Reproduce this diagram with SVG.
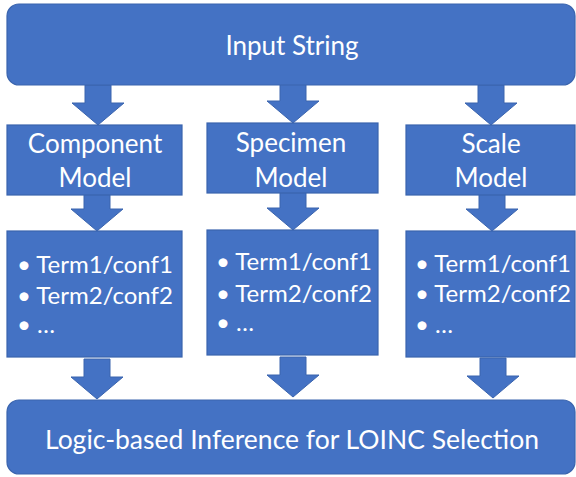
<svg xmlns="http://www.w3.org/2000/svg" width="576" height="477" viewBox="0 0 576 477">
  <defs>
    <style>
      .box { fill: #4472C4; stroke: #3A64AE; stroke-width: 1.2; }
      .arrow { fill: #4472C4; stroke: #3A64AE; stroke-width: 1; }
      .lbl { fill: #FFFFFF; font-family: Lato, "Open Sans", "Liberation Sans", sans-serif; font-size: 26px; }
      .term { font-size: 24px; }
      .c { text-anchor: middle; }
    </style>
    <!-- block arrow pointing down, origin at the tip -->
    <path id="down" d="M-13,-40 H13 V-22 H26 L0,0 L-26,-22 H-13 Z"/>
  </defs>

  <rect width="576" height="477" fill="#FFFFFF"/>

  <g id="connectors">
    <use href="#down" class="arrow" x="98" y="125"/>
    <use href="#down" class="arrow" x="293" y="123"/>
    <use href="#down" class="arrow" x="491" y="125"/>
    <use href="#down" class="arrow" x="97" y="231"/>
    <use href="#down" class="arrow" x="293" y="230"/>
    <use href="#down" class="arrow" x="492" y="231"/>
    <use href="#down" class="arrow" x="97" y="399"/>
    <use href="#down" class="arrow" x="293" y="397"/>
    <use href="#down" class="arrow" x="493" y="398"/>
  </g>

  <g id="input-string">
    <rect class="box" x="7" y="4" width="568" height="81" rx="12"/>
    <text class="lbl c" x="292" y="55">Input String</text>
  </g>

  <g id="component-model">
    <rect class="box" x="7" y="125" width="175" height="70"/>
    <text class="lbl c" x="95" y="153">Component</text>
    <text class="lbl c" x="95" y="187">Model</text>
  </g>

  <g id="specimen-model">
    <rect class="box" x="207" y="123" width="171" height="70"/>
    <text class="lbl c" x="291" y="152">Specimen</text>
    <text class="lbl c" x="291" y="187">Model</text>
  </g>

  <g id="scale-model">
    <rect class="box" x="406" y="125" width="169" height="70"/>
    <text class="lbl c" x="491" y="153">Scale</text>
    <text class="lbl c" x="491" y="187">Model</text>
  </g>

  <g id="component-terms">
    <rect class="box" x="7" y="231" width="175" height="126"/>
    <text class="lbl term" x="17" y="273">• Term1/conf1</text>
    <text class="lbl term" x="17" y="304">• Term2/conf2</text>
    <text class="lbl term" x="17" y="333">• …</text>
  </g>

  <g id="specimen-terms">
    <rect class="box" x="207" y="230" width="171" height="125"/>
    <text class="lbl term" x="216" y="270">• Term1/conf1</text>
    <text class="lbl term" x="216" y="302">• Term2/conf2</text>
    <text class="lbl term" x="216" y="331">• …</text>
  </g>

  <g id="scale-terms">
    <rect class="box" x="406" y="231" width="169" height="126"/>
    <text class="lbl term" x="415" y="272">• Term1/conf1</text>
    <text class="lbl term" x="415" y="302">• Term2/conf2</text>
    <text class="lbl term" x="415" y="333">• …</text>
  </g>

  <g id="loinc-inference">
    <rect class="box" x="7" y="400" width="568" height="74" rx="12"/>
    <text class="lbl c" x="292" y="449" style="font-size:26.5px">Logic-based Inference for LOINC Selection</text>
  </g>
</svg>
